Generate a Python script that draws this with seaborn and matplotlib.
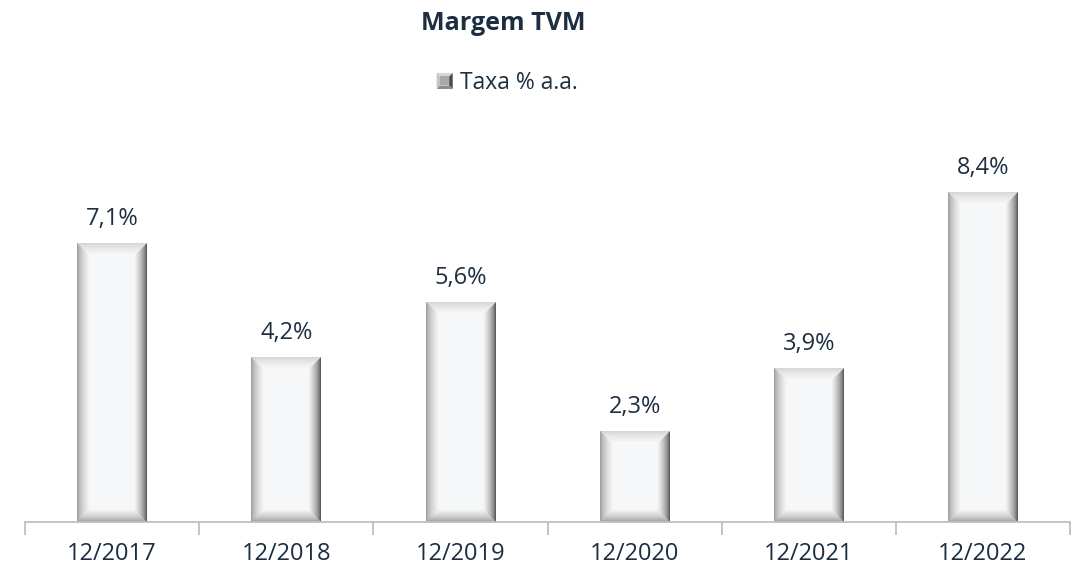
import numpy as np
import pandas as pd
import matplotlib
matplotlib.use("Agg")
import matplotlib.pyplot as plt
from matplotlib.patches import Polygon
from matplotlib.legend_handler import HandlerBase
import seaborn as sns

# Data
periods = ["12/2017", "12/2018", "12/2019", "12/2020", "12/2021", "12/2022"]
rates = [7.1, 4.2, 5.6, 2.3, 3.9, 8.4]
value_labels = ["7,1%", "4,2%", "5,6%", "2,3%", "3,9%", "8,4%"]
series_name = "Taxa % a.a."
title = "Margem TVM"

TEXT = "#1c2e40"
AXIS = "#bfbfbf"

sns.set_theme(style="white")
plt.rcParams["font.family"] = ["Open Sans", "DejaVu Sans"]

W, H, DPI = 1076, 570, 100
fig = plt.figure(figsize=(W / DPI, H / DPI), dpi=DPI)
ax_left, ax_right, ax_base, ax_top = 25, 1070, 522, 129.5
ax = fig.add_axes([ax_left / W, (H - ax_base) / H,
                   (ax_right - ax_left) / W, (ax_base - ax_top) / H])

df = pd.DataFrame({"period": periods, "rate": rates})
sns.barplot(data=df, x="period", y="rate", color="white", width=0.4,
            linewidth=0, ax=ax)

ymax = 10.0
ax.set_xlim(-0.5, len(periods) - 0.5)
ax.set_ylim(0, ymax)


def bevel_image(w_px, h_px, b=13.0, scale=4):
    """Grey-scale bevel: each pixel is shaded by its nearest edge."""
    nx = max(int(w_px * scale), 2)
    ny = max(int(h_px * scale), 2)
    u = (np.arange(nx) + 0.5) / scale
    v = (np.arange(ny) + 0.5) / scale
    U, V = np.meshgrid(u, v)
    d = np.stack([U, w_px - U, V, h_px - V])  # left, right, top, bottom
    side = np.argmin(d, axis=0)
    dist = np.min(d, axis=0)
    t = np.clip(dist / b, 0, 1)
    val = np.full(U.shape, 0.965)
    left = 0.56 + 0.41 * t ** 0.55
    right = 0.18 + 0.80 * t ** 0.5
    top = 0.82 + 0.16 * t ** 0.7
    bottom = 0.55 + 0.42 * t ** 0.6
    inside = dist < b
    val = np.where(inside & (side == 0), left, val)
    val = np.where(inside & (side == 1), right, val)
    val = np.where(inside & (side == 2), top, val)
    val = np.where(inside & (side == 3), bottom, val)
    img = np.empty(U.shape + (3,))
    img[..., 0] = val
    img[..., 1] = np.clip(val + 0.005, 0, 1)
    img[..., 2] = np.where(inside, val, np.clip(val + 0.012, 0, 1))
    return np.clip(img, 0, 1)


fig.canvas.draw()
for patch in ax.patches:
    x0, w, h = patch.get_x(), patch.get_width(), patch.get_height()
    (px0, py0), (px1, py1) = ax.transData.transform([(x0, 0), (x0 + w, h)])
    img = bevel_image(abs(px1 - px0), abs(py1 - py0))
    ax.imshow(img, extent=(x0, x0 + w, 0, h), origin="upper",
              aspect="auto", interpolation="antialiased", zorder=3)

ax.set_xlim(-0.5, len(periods) - 0.5)
ax.set_ylim(0, ymax)

# Value labels above bars
for patch, lab in zip(ax.patches, value_labels):
    ax.annotate(lab, (patch.get_x() + patch.get_width() / 2, patch.get_height()),
                xytext=(0, 9), textcoords="offset points", ha="center",
                va="bottom", fontsize=17, color=TEXT, zorder=4)

# Category axis: tick marks at category boundaries, labels at centres
n = len(periods)
ax.set_xticks(np.arange(-0.5, n, 1.0))
ax.set_xticklabels([])
ax.set_xticks(np.arange(n), minor=True)
ax.set_xticklabels(periods, minor=True)
ax.tick_params(axis="x", which="major", length=9, width=1.3, color=AXIS,
               direction="out", bottom=True)
ax.tick_params(axis="x", which="minor", length=0, pad=14.5, labelsize=17,
               labelcolor=TEXT)
ax.set_yticks([])
ax.set_xlabel("")
ax.set_ylabel("")
for s in ["top", "right", "left"]:
    ax.spines[s].set_visible(False)
ax.spines["bottom"].set_color(AXIS)
ax.spines["bottom"].set_linewidth(1.3)
ax.spines["bottom"].set_zorder(5)
ax.set_facecolor("white")


class BevelHandler(HandlerBase):
    def create_artists(self, legend, orig_handle, xdescent, ydescent,
                       width, height, fontsize, trans):
        s = min(width, height)
        x0 = -xdescent + (width - s) / 2
        y0 = -ydescent + (height - s) / 2
        x1, y1 = x0 + s, y0 + s
        k = s * 0.22
        ix0, iy0, ix1, iy1 = x0 + k, y0 + k, x1 - k, y1 - k
        parts = [
            ([(x0, y1), (x1, y1), (ix1, iy1), (ix0, iy1)], "#d6d6d6"),  # top
            ([(x0, y0), (x0, y1), (ix0, iy1), (ix0, iy0)], "#c4c4c4"),  # left
            ([(x1, y0), (x1, y1), (ix1, iy1), (ix1, iy0)], "#4a4a4a"),  # right
            ([(x0, y0), (x1, y0), (ix1, iy0), (ix0, iy0)], "#8c8c8c"),  # bottom
            ([(ix0, iy0), (ix1, iy0), (ix1, iy1), (ix0, iy1)], "#a9a9a9"),
        ]
        arts = []
        for pts, c in parts:
            p = Polygon(pts, closed=True, facecolor=c, edgecolor="none",
                        transform=trans)
            arts.append(p)
        return arts


handle = ax.patches[0]
leg = fig.legend([handle], [series_name], loc="center",
                 bbox_to_anchor=(507 / W, 1 - 83 / H), frameon=False,
                 fontsize=16.5, handlelength=0.7, handleheight=0.7,
                 handletextpad=0.3, handler_map={type(handle): BevelHandler()})
for t in leg.get_texts():
    t.set_color(TEXT)

fig.text(503 / W, 1 - 30 / H, title, ha="center", va="baseline",
         fontsize=18, fontweight="bold", color=TEXT)

fig.savefig("out.png", dpi=DPI, facecolor="white")
